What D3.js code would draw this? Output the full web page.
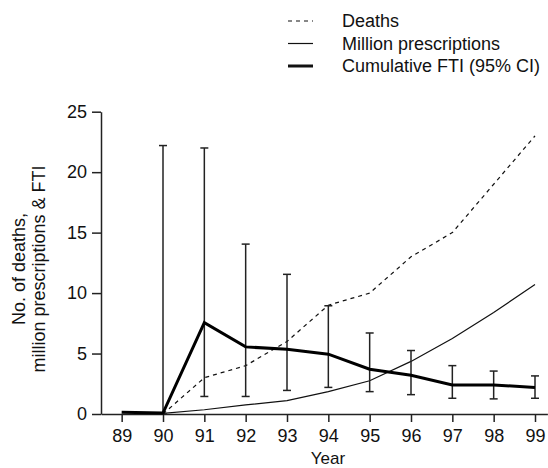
<!DOCTYPE html>
<html>
<head>
<meta charset="utf-8">
<script src="https://cdn.jsdelivr.net/npm/d3@7"></script>
<style>
  body { margin: 0; background: #fff; }
  text { font-family: "Liberation Sans", Arial, sans-serif; fill: #111; }
</style>
</head>
<body>
<svg id="chart" width="548" height="468"></svg>
<script>
// chart values
const years = [89, 90, 91, 92, 93, 94, 95, 96, 97, 98, 99];
const deathYears = [90, 91, 92, 93, 94, 95, 96, 97, 98, 99];
const deaths = [0, 3, 4, 6, 9, 10, 13, 15, 19, 23];
const rxYears = [90, 91, 92, 93, 94, 95, 96, 97, 98, 99];
const prescriptions = [0.05, 0.35, 0.75, 1.1, 1.85, 2.75, 4.35, 6.25, 8.4, 10.7];
const ftiYears = [89, 90, 91, 92, 93, 94, 95, 96, 97, 98, 99];
const fti = [0.15, 0.08, 7.55, 5.55, 5.35, 4.95, 3.7, 3.2, 2.4, 2.4, 2.2];
const ciYears = [90, 91, 92, 93, 94, 95, 96, 97, 98, 99];
const ciLow = [0, 1.45, 1.45, 1.95, 2.2, 1.85, 1.6, 1.3, 1.25, 1.3];
const ciHigh = [22.2, 22.0, 14.05, 11.55, 8.95, 6.7, 5.25, 4.0, 3.55, 3.15];
const yTicks = [0, 5, 10, 15, 20, 25];
const legendItems = [
  { label: "Deaths", dash: "4,4", width: 1.2 },
  { label: "Million prescriptions", dash: null, width: 1.2 },
  { label: "Cumulative FTI (95% CI)", dash: null, width: 3 }
];

const svg = d3.select("#chart");

const x = d3.scaleLinear().domain([88.5, 99.3]).range([101, 547.4]);
const y = d3.scaleLinear().domain([0, 25]).range([414, 111.7]);

// axes
const xAxis = svg.append("g")
  .attr("transform", "translate(0," + y(0) + ")")
  .call(d3.axisBottom(x).tickValues(years).tickSize(8).tickPadding(7).tickSizeOuter(0));
const yAxis = svg.append("g")
  .attr("transform", "translate(" + x(88.5) + ",0)")
  .call(d3.axisLeft(y).tickValues(yTicks).tickSize(9).tickPadding(5).tickSizeOuter(0));

[xAxis, yAxis].forEach((g) => {
  g.select(".domain").attr("stroke", "#222").attr("stroke-width", 1.5);
  g.selectAll(".tick line").attr("stroke", "#222").attr("stroke-width", 1.5);
  g.selectAll(".tick text").style("font-size", "18px").attr("fill", "#111");
});

svg.append("text")
  .attr("x", 328)
  .attr("y", 464)
  .attr("text-anchor", "middle")
  .style("font-size", "17px")
  .text("Year");

const yl = svg.append("text")
  .attr("transform", "translate(0,269) rotate(-90)")
  .attr("text-anchor", "middle")
  .style("font-size", "18px");
yl.append("tspan").attr("x", 0).attr("y", 25).text("No. of deaths,");
yl.append("tspan").attr("x", 0).attr("y", 45).text("million prescriptions & FTI");

// lines
const line = (xs, vs) => d3.line()
  .x((d, i) => x(xs[i]))
  .y((d) => y(d))(vs);

svg.append("path")
  .attr("d", line(deathYears, deaths))
  .attr("fill", "none")
  .attr("stroke", "#111")
  .attr("stroke-width", 1.2)
  .attr("stroke-dasharray", "4,4");

svg.append("path")
  .attr("d", line(rxYears, prescriptions))
  .attr("fill", "none")
  .attr("stroke", "#111")
  .attr("stroke-width", 1.2);

// error bars
const eb = svg.append("g").attr("stroke", "#222").attr("stroke-width", 1.5);
ciYears.forEach((yr, i) => {
  eb.append("line")
    .attr("x1", x(yr)).attr("x2", x(yr))
    .attr("y1", y(ciLow[i])).attr("y2", y(ciHigh[i]));
  [ciLow[i], ciHigh[i]].forEach((v) => {
    eb.append("line")
      .attr("x1", x(yr) - 4).attr("x2", x(yr) + 4)
      .attr("y1", y(v)).attr("y2", y(v));
  });
});

svg.append("path")
  .attr("d", line(ftiYears, fti))
  .attr("fill", "none")
  .attr("stroke", "#000")
  .attr("stroke-width", 3)
  .attr("stroke-linejoin", "miter");

// legend
const lg = svg.append("g").attr("transform", "translate(288,21)");
legendItems.forEach((d, i) => {
  const row = lg.append("g").attr("transform", "translate(0," + i * 22.5 + ")");
  row.append("line")
    .attr("x1", 0).attr("x2", 25)
    .attr("stroke", "#111")
    .attr("stroke-width", d.width)
    .attr("stroke-dasharray", d.dash);
  row.append("text")
    .attr("x", 54)
    .attr("dy", "0.35em")
    .style("font-size", "18px")
    .text(d.label);
});
</script>
</body>
</html>
